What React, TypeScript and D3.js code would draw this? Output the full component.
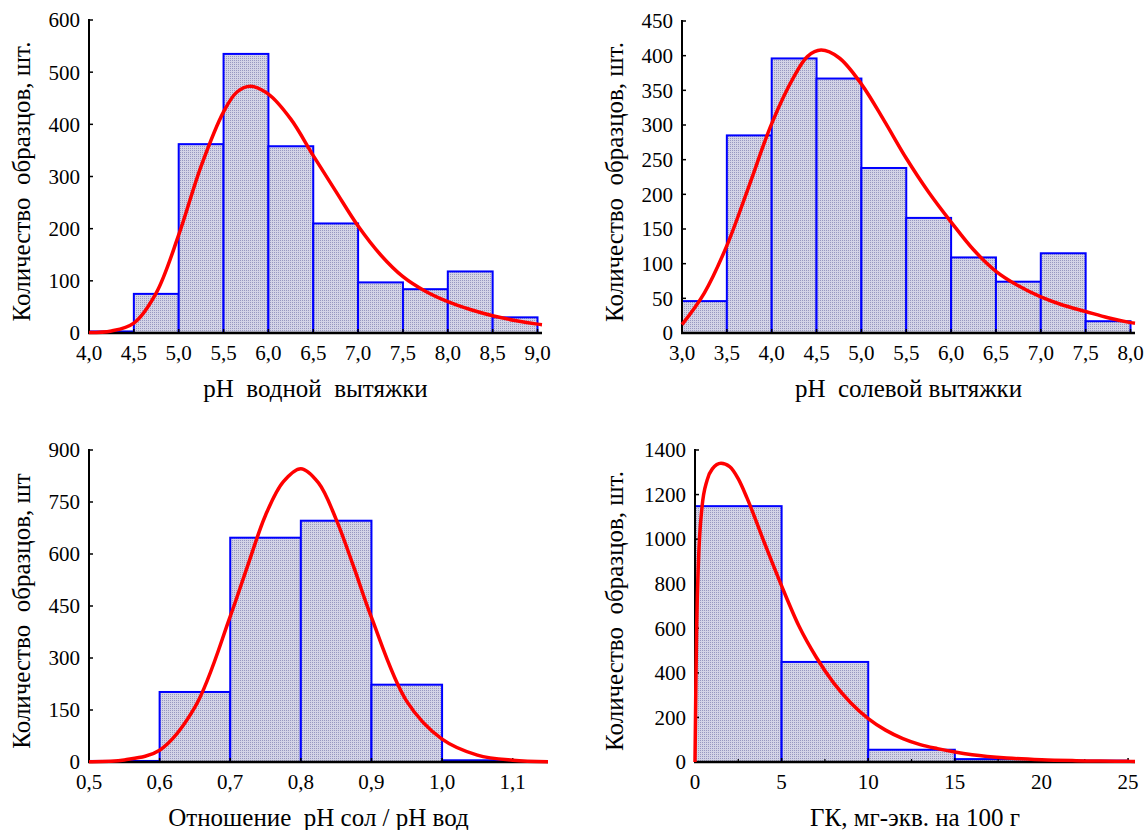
import React from "react";
import * as d3 from "d3";

// ---------- Panel 1: pH водной вытяжки ----------
const phWaterEdges = [4.0, 4.5, 5.0, 5.5, 6.0, 6.5, 7.0, 7.5, 8.0, 8.5, 9.0];
const phWaterCounts = [3, 75, 362, 535, 358, 210, 97, 84, 118, 30];
const phWaterCurveX = [4.0, 4.25, 4.5, 4.75, 5.0, 5.25, 5.5, 5.65, 5.8, 6.0, 6.25, 6.5, 6.75, 7.0, 7.25, 7.5, 7.75, 8.0, 8.25, 8.5, 8.75, 9.0, 9.05];
const phWaterCurveY = [1, 4, 19, 77, 188, 320, 424, 462, 473, 458, 410, 340, 272, 205, 150, 108, 80, 60, 45, 33, 24, 17, 16];
const phWaterXTicks = [4.0, 4.5, 5.0, 5.5, 6.0, 6.5, 7.0, 7.5, 8.0, 8.5, 9.0];
const phWaterYTicks = [0, 100, 200, 300, 400, 500, 600];

// ---------- Panel 2: pH солевой вытяжки ----------
const phSaltEdges = [3.0, 3.5, 4.0, 4.5, 5.0, 5.5, 6.0, 6.5, 7.0, 7.5, 8.0];
const phSaltCounts = [46, 285, 396, 367, 238, 166, 109, 74, 115, 17];
const phSaltCurveX = [3.0, 3.25, 3.5, 3.75, 4.0, 4.25, 4.4, 4.55, 4.75, 5.0, 5.25, 5.5, 5.75, 6.0, 6.25, 6.5, 6.75, 7.0, 7.25, 7.5, 7.75, 8.0, 8.05];
const phSaltCurveY = [12, 58, 126, 213, 302, 370, 399, 408, 397, 359, 307, 252, 203, 160, 120, 89, 68, 52, 40, 31, 22, 15, 14];
const phSaltXTicks = [3.0, 3.5, 4.0, 4.5, 5.0, 5.5, 6.0, 6.5, 7.0, 7.5, 8.0];
const phSaltYTicks = [0, 50, 100, 150, 200, 250, 300, 350, 400, 450];

// ---------- Panel 3: Отношение pH сол / pH вод ----------
const ratioEdges = [0.5, 0.6, 0.7, 0.8, 0.9, 1.0, 1.1];
const ratioCounts = [3, 202, 647, 696, 223, 5];
const ratioCurveX = [0.5, 0.55, 0.6, 0.65, 0.7, 0.725, 0.75, 0.775, 0.8, 0.825, 0.85, 0.875, 0.9, 0.95, 1.0, 1.05, 1.1, 1.15];
const ratioCurveY = [1, 6, 34, 158, 420, 568, 712, 808, 846, 805, 700, 562, 417, 175, 66, 20, 5, 1];
const ratioXTicks = [0.5, 0.6, 0.7, 0.8, 0.9, 1.0, 1.1];
const ratioYTicks = [0, 150, 300, 450, 600, 750, 900];

// ---------- Panel 4: ГК, мг-экв. на 100 г ----------
const gkEdges = [0, 5, 10, 15, 20, 25];
const gkCounts = [1148, 449, 55, 13, 6];
const gkCurveX = [0, 0.05, 0.1, 0.2, 0.4, 0.7, 1.0, 1.5, 2.0, 2.5, 3.0, 4.0, 5.0, 6.0, 7.0, 8.0, 9.0, 10, 11, 12, 13, 14, 15, 16, 18, 20, 22, 25, 25.4];
const gkCurveY = [0, 350, 620, 900, 1140, 1265, 1315, 1340, 1325, 1270, 1185, 985, 790, 610, 470, 355, 265, 195, 143, 105, 78, 60, 45, 33, 18, 10, 6, 3, 2];
const gkXTicks = [0, 5, 10, 15, 20, 25];
const gkXMinorTicks = [2.5, 7.5, 12.5, 17.5, 22.5];
const gkYTicks = [0, 200, 400, 600, 800, 1000, 1200, 1400];

const FONT = "Liberation Serif, Times New Roman, DejaVu Serif, serif";

type PanelCfg = {
  left: number;
  right: number;
  top: number;
  bottom: number;
  xDomain: [number, number];
  yMax: number;
  edges: number[];
  counts: number[];
  curveX: number[];
  curveY: number[];
  smooth: "cr" | "mono";
  xTicks: number[];
  xMinor?: number[];
  yTicks: number[];
  xFmt: (v: number) => string;
  xTitle: string;
  yTitle: string;
  yTitleX: number;
};

const commaFmt = (digits: number) => (v: number) => v.toFixed(digits).replace(".", ",");

const textStyle: React.CSSProperties = { fontFamily: FONT, whiteSpace: "pre" };

function Panel({ cfg }: { cfg: PanelCfg }) {
  const x = d3.scaleLinear().domain(cfg.xDomain).range([cfg.left, cfg.right]);
  const y = d3.scaleLinear().domain([0, cfg.yMax]).range([cfg.bottom, cfg.top]);
  const pts: [number, number][] = cfg.curveX.map((v, i) => [v, cfg.curveY[i]]);
  const line = d3
    .line<[number, number]>()
    .x((d) => x(d[0]))
    .y((d) => y(d[1]))
    .curve(cfg.smooth === "cr" ? d3.curveCatmullRom.alpha(0.5) : d3.curveMonotoneX);
  const x0 = x(cfg.xDomain[0]);
  const y0 = y(0);
  return (
    <g>
      {cfg.counts.map((c, i) => (
        <rect
          key={i}
          x={x(cfg.edges[i])}
          y={y(c)}
          width={x(cfg.edges[i + 1]) - x(cfg.edges[i])}
          height={y0 - y(c)}
          fill="url(#dots)"
          stroke="#0000ff"
          strokeWidth={2}
        />
      ))}
      <line x1={x0} x2={x0} y1={y0} y2={y(cfg.yMax) - 1} stroke="#000" strokeWidth={2} />
      <line x1={x0 - 1} x2={cfg.right} y1={y0} y2={y0} stroke="#000" strokeWidth={2.5} />
      {cfg.yTicks.map((t) => (
        <g key={"y" + t}>
          <line x1={x0} x2={x0 + 4} y1={y(t)} y2={y(t)} stroke="#000" strokeWidth={1.5} />
          <text x={x0 - 9} y={y(t)} dy="0.35em" textAnchor="end" fontSize={21} fill="#000" style={textStyle}>
            {t}
          </text>
        </g>
      ))}
      {cfg.xTicks.map((t) => (
        <g key={"x" + t}>
          <line x1={x(t)} x2={x(t)} y1={y0} y2={y0 - 4} stroke="#000" strokeWidth={1.5} />
          <text x={x(t)} y={y0 + 27} textAnchor="middle" fontSize={21} fill="#000" style={textStyle}>
            {cfg.xFmt(t)}
          </text>
        </g>
      ))}
      {(cfg.xMinor || []).map((t) => (
        <line key={"m" + t} x1={x(t)} x2={x(t)} y1={y0} y2={y0 - 3} stroke="#000" strokeWidth={1.2} />
      ))}
      <path d={line(pts) || ""} fill="none" stroke="#ff0000" strokeWidth={3.5} />
      <text
        x={(cfg.left + cfg.right) / 2}
        y={y0 + 64}
        textAnchor="middle"
        fontSize={25}
        fill="#000"
        style={textStyle}
      >
        {cfg.xTitle}
      </text>
      <text
        transform={`translate(${cfg.yTitleX},${(cfg.top + cfg.bottom) / 2 + 5}) rotate(-90)`}
        textAnchor="middle"
        fontSize={25}
        fill="#000"
        style={textStyle}
      >
        {cfg.yTitle}
      </text>
    </g>
  );
}

const panels: PanelCfg[] = [
  {
    left: 89, right: 542, top: 20, bottom: 333,
    xDomain: [4.0, 9.05], yMax: 600,
    edges: phWaterEdges, counts: phWaterCounts,
    curveX: phWaterCurveX, curveY: phWaterCurveY, smooth: "cr",
    xTicks: phWaterXTicks, yTicks: phWaterYTicks,
    xFmt: commaFmt(1),
    xTitle: "pH  водной  вытяжки",
    yTitle: "Количество  образцов, шт.",
    yTitleX: 30,
  },
  {
    left: 682, right: 1135, top: 21, bottom: 333,
    xDomain: [3.0, 8.05], yMax: 450,
    edges: phSaltEdges, counts: phSaltCounts,
    curveX: phSaltCurveX, curveY: phSaltCurveY, smooth: "cr",
    xTicks: phSaltXTicks, yTicks: phSaltYTicks,
    xFmt: commaFmt(1),
    xTitle: "pH  солевой вытяжки",
    yTitle: "Количество  образцов, шт.",
    yTitleX: 623,
  },
  {
    left: 89, right: 548, top: 450, bottom: 762,
    xDomain: [0.5, 1.15], yMax: 900,
    edges: ratioEdges, counts: ratioCounts,
    curveX: ratioCurveX, curveY: ratioCurveY, smooth: "cr",
    xTicks: ratioXTicks, yTicks: ratioYTicks,
    xFmt: commaFmt(1),
    xTitle: "Отношение  pH сол / pH вод",
    yTitle: "Количество  образцов, шт",
    yTitleX: 30,
  },
  {
    left: 695, right: 1135, top: 450, bottom: 762,
    xDomain: [0, 25.4], yMax: 1400,
    edges: gkEdges, counts: gkCounts,
    curveX: gkCurveX, curveY: gkCurveY, smooth: "mono",
    xTicks: gkXTicks, xMinor: gkXMinorTicks, yTicks: gkYTicks,
    xFmt: (v: number) => String(v),
    xTitle: "ГК, мг-экв. на 100 г",
    yTitle: "Количество  образцов, шт.",
    yTitleX: 623,
  },
];

export default function App() {
  return (
    <svg width={1146} height={830} style={{ position: "absolute", left: 0, top: 0, background: "#fff" }}>
      <defs>
        <pattern id="dots" width={2} height={2} patternUnits="userSpaceOnUse">
          <rect width={2} height={2} fill="#d4d4e6" />
          <rect width={1} height={1} fill="#9898c0" />
        </pattern>
      </defs>
      <rect width={1146} height={830} fill="#fff" />
      {panels.map((p, i) => (
        <Panel key={i} cfg={p} />
      ))}
    </svg>
  );
}
